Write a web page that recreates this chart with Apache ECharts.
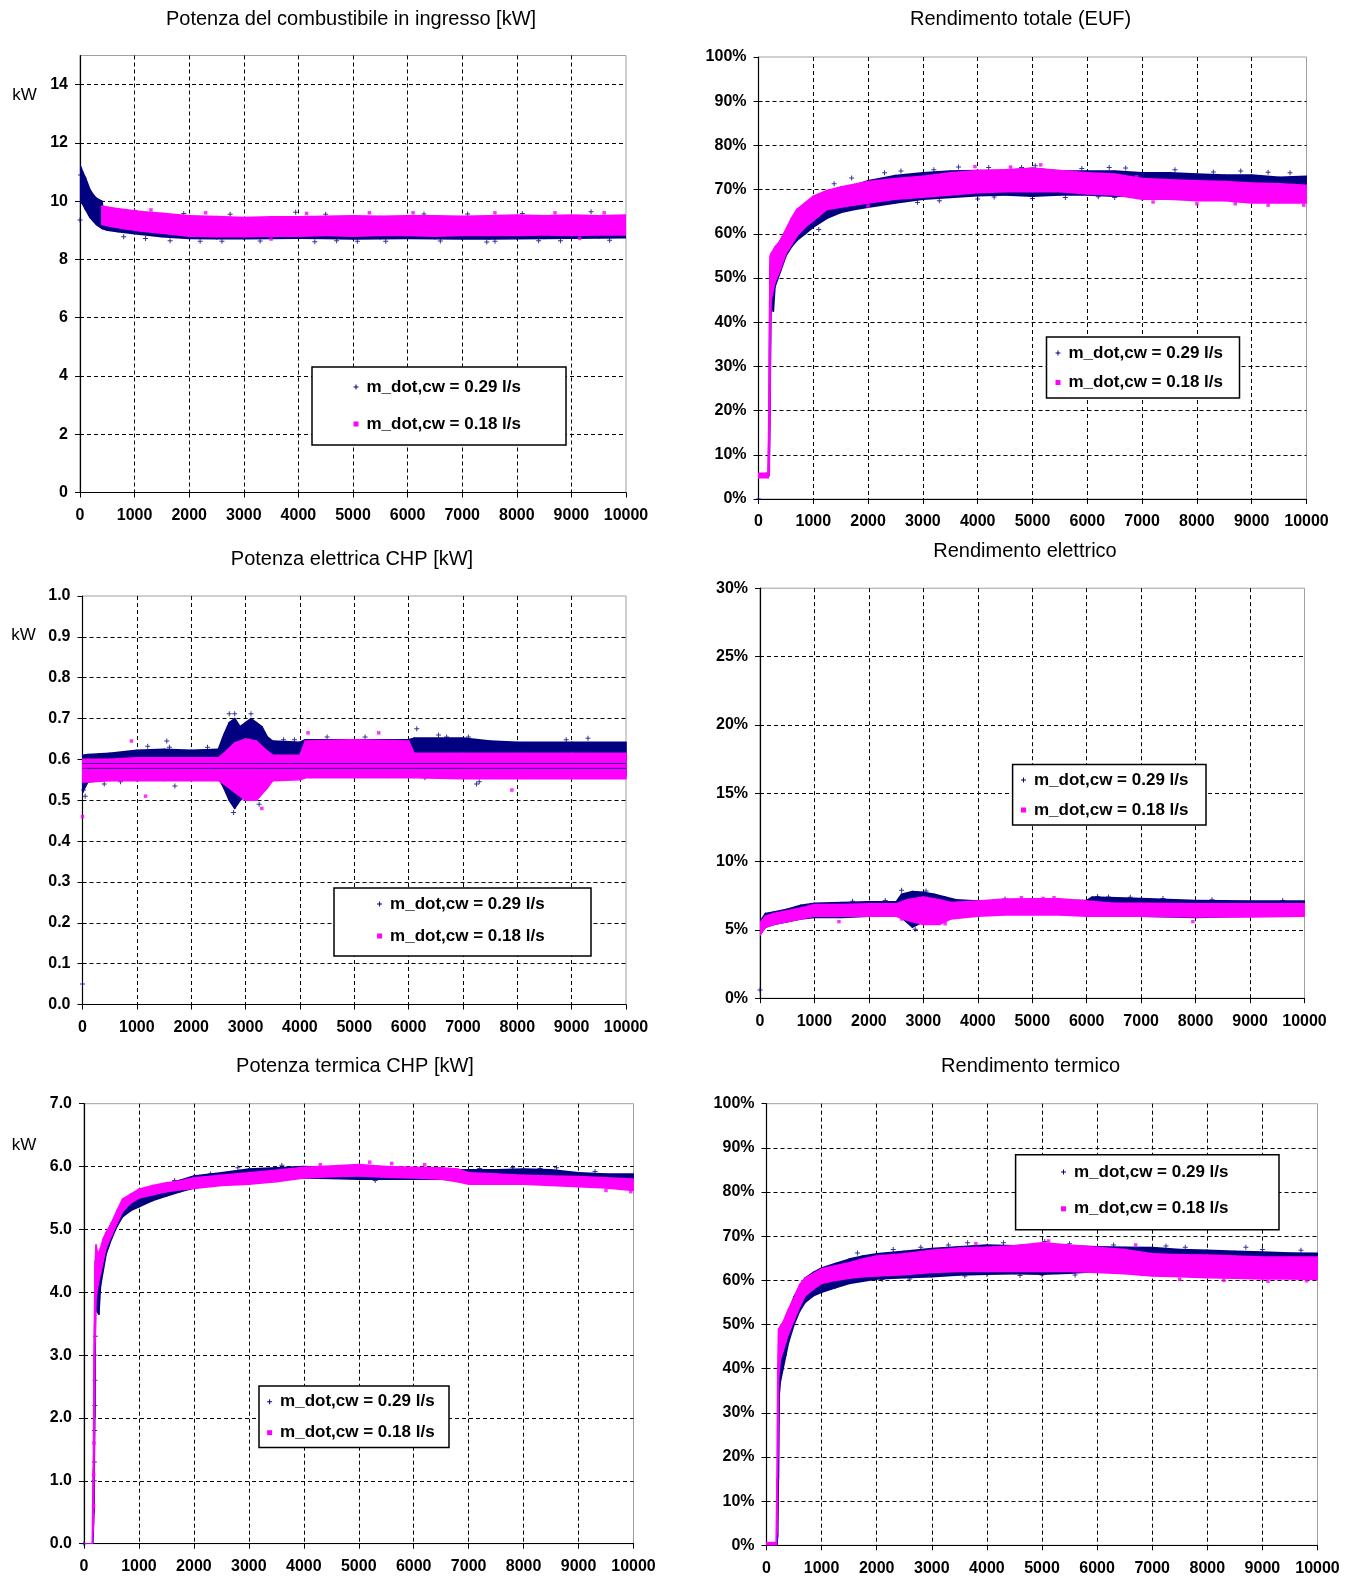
<!DOCTYPE html>
<html><head><meta charset="utf-8">
<script src="https://cdn.jsdelivr.net/npm/echarts@6/dist/echarts.min.js"></script>
<style>html,body{margin:0;padding:0;background:#fff}#c{width:1360px;height:1582px}</style>
</head><body><div id="c"></div>
<script>
// ---------- series names ----------
const NAVY_NAME = 'm_dot,cw = 0.29 l/s';
const MAG_NAME = 'm_dot,cw = 0.18 l/s';

// ---------- Panel 1: Potenza del combustibile in ingresso [kW] ----------
const p1NavyX  = [0, 50, 100, 180, 250, 300, 400, 420, 500, 700, 1000, 1500, 2000, 2500, 3000, 3500, 4000, 4500, 5000, 5500, 6000, 6500, 7000, 7500, 8000, 8500, 9000, 9500, 10000];
const p1NavyHi = [11.25, 11.0, 10.8, 10.4, 10.2, 10.1, 10.0, 9.78, 9.72, 9.62, 9.58, 9.53, 9.46, 9.43, 9.40, 9.42, 9.43, 9.45, 9.46, 9.44, 9.46, 9.46, 9.45, 9.47, 9.48, 9.47, 9.48, 9.47, 9.48];
const p1NavyLo = [10.0, 9.9, 9.72, 9.45, 9.3, 9.2, 9.07, 9.05, 9.0, 8.95, 8.88, 8.78, 8.72, 8.71, 8.71, 8.72, 8.73, 8.72, 8.7, 8.71, 8.72, 8.71, 8.7, 8.7, 8.71, 8.72, 8.73, 8.74, 8.75];
const p1MagX  = [400, 600, 850, 1100, 1500, 2000, 2500, 3000, 3500, 4000, 4500, 5000, 5500, 6000, 6500, 7000, 7500, 8000, 8500, 9000, 9500, 10000];
const p1MagHi = [9.83, 9.76, 9.7, 9.64, 9.58, 9.5, 9.47, 9.44, 9.46, 9.46, 9.48, 9.5, 9.48, 9.5, 9.5, 9.48, 9.5, 9.52, 9.5, 9.52, 9.5, 9.52];
const p1MagLo = [9.2, 9.12, 9.05, 8.98, 8.9, 8.8, 8.78, 8.78, 8.8, 8.8, 8.82, 8.8, 8.82, 8.82, 8.8, 8.82, 8.82, 8.82, 8.84, 8.82, 8.84, 8.84];
const p1NavyPts = [[0,9.35],[10,10.9],[800,8.78],[1650,8.64],[2750,9.55],[3950,9.62],[5080,8.62],[6300,9.56],[7450,8.6],[9360,9.64],[2200,8.62],[4700,8.64],[8800,8.64],
  [1200,8.72],[2600,8.62],[3300,8.63],[4300,8.61],[5600,8.62],[6600,8.63],[7600,8.62],[8400,8.64],[9700,8.66],[1000,9.68],[1900,9.58],[4500,9.55],[7100,9.56],[8100,9.58]];
const p1MagPts  = [[4150,9.58],[6100,9.6],[8700,9.6],[9150,8.72],[3500,8.7],[1300,9.7],[2300,9.6],[5300,9.6],[7600,9.6],[9600,9.6]];

// ---------- Panel 2: Rendimento totale (EUF) [%] ----------
const p2NavyX  = [0, 180, 195, 210, 225, 250, 270, 300, 400, 500, 600, 700, 850, 1000, 1250, 1500, 1750, 2000, 2500, 3000, 3500, 4000, 4500, 5000, 5500, 6000, 6500, 7000, 7500, 8000, 8500, 9000, 9500, 10000];
const p2NavyLo = [5.0, 5.1, 5.5, 20, 42, 44, 42.5, 48, 51.5, 55, 57, 58.5, 60, 61.5, 63.5, 64.8, 65.5, 66, 67, 67.8, 68.2, 68.6, 68.8, 68.5, 68.8, 68.8, 68.5, 68.5, 69, 69, 69, 69.5, 69.5, 69.5];
const p2NavyHi = [5.6, 5.8, 20, 52, 55, 55, 55.5, 56, 58.5, 60.8, 63, 65, 66.5, 68, 69.5, 70.5, 71, 72, 73.2, 73.8, 74.2, 74.3, 74.3, 74.8, 74.2, 74.2, 74.2, 73.8, 73.8, 73.5, 73.3, 73.3, 72.8, 73];
const p2MagX  = [0, 175, 190, 205, 215, 230, 300, 400, 500, 600, 700, 850, 1000, 1250, 1500, 1750, 2000, 2500, 3000, 3500, 4000, 4500, 5000, 5500, 6000, 6500, 7000, 7500, 8000, 8500, 9000, 9500, 10000];
const p2MagLo = [4.8, 4.8, 5.5, 18, 35, 45, 49, 52, 55.5, 57.5, 59.5, 61.5, 63, 65.5, 66, 66.5, 67, 67.8, 68.3, 68.8, 69.3, 69.5, 69.5, 69.5, 69, 68.8, 67.8, 67.8, 67.5, 67.5, 67, 67, 67];
const p2MagHi = [5.8, 5.8, 20, 45, 55, 55.5, 57, 58.5, 61, 63.5, 65.5, 67, 68.5, 69.8, 70.6, 71.2, 71.8, 72.5, 73, 73.8, 74.3, 74.5, 74.8, 74.3, 73.8, 73.5, 72.5, 72.2, 72, 71.8, 71.5, 71.3, 71];
const p2NavyPts = [[0,0],[1380,71.3],[1700,72.6],[2900,67.1],[3650,75.1],[4000,67.9],[5050,75.4],[5000,68],[6500,68.2],[6700,74.9],[8300,74],[9300,73.9],
  [2300,73.8],[2600,74.2],[3200,74.5],[4200,75],[4800,75],[5900,74.8],[6400,75],[7600,74.5],[8800,74.2],[9700,73.8],[3300,67.5],[4300,68.3],[5600,68.2],[6200,68.4],[7000,68],[1100,61]];
const p2MagPts  = [[3950,75.2],[4600,75.1],[5150,75.6],[9950,66.5],[2000,66.3],[7200,67.2],[8000,66.8],[8700,66.8],[9300,66.5],[6900,72.9]];

// ---------- Panel 3: Potenza elettrica CHP [kW] ----------
const p3NavyX  = [0, 100, 500, 1000, 1500, 2000, 2500, 2600, 2700, 2800, 2900, 3000, 3100, 3200, 3300, 3400, 3500, 4000, 4100, 5000, 6000, 6100, 7000, 7500, 8000, 9000, 10000];
const p3NavyHi = [0.61, 0.612, 0.615, 0.622, 0.625, 0.622, 0.625, 0.66, 0.69, 0.70, 0.68, 0.69, 0.70, 0.69, 0.68, 0.655, 0.645, 0.642, 0.648, 0.648, 0.648, 0.652, 0.652, 0.645, 0.642, 0.642, 0.642];
const p3NavyLo = [0.52, 0.545, 0.55, 0.555, 0.555, 0.555, 0.555, 0.53, 0.5, 0.48, 0.5, 0.51, 0.5, 0.51, 0.53, 0.56, 0.58, 0.58, 0.575, 0.565, 0.57, 0.565, 0.56, 0.56, 0.56, 0.56, 0.56];
const p3MagX  = [0, 100, 500, 1000, 1500, 2000, 2500, 2600, 2800, 3000, 3200, 3400, 3500, 4000, 4100, 5000, 6000, 6100, 7000, 8000, 9000, 10000];
const p3MagHi = [0.6, 0.6, 0.6, 0.604, 0.604, 0.604, 0.604, 0.615, 0.64, 0.65, 0.645, 0.62, 0.61, 0.61, 0.645, 0.648, 0.645, 0.615, 0.615, 0.615, 0.615, 0.615];
const p3MagLo = [0.545, 0.545, 0.548, 0.548, 0.548, 0.548, 0.548, 0.54, 0.52, 0.5, 0.5, 0.53, 0.548, 0.55, 0.555, 0.555, 0.555, 0.555, 0.553, 0.553, 0.553, 0.553];
const p3NavyLevels = [0.578, 0.59];
const p3NavyPts = [[0,0.05],[50,0.51],[20,0.525],[1550,0.645],[2700,0.712],[2800,0.712],[3100,0.712],[2780,0.47],[3250,0.49],[6150,0.675],[6550,0.66],[7250,0.54],[4200,0.56],
  [1200,0.632],[1600,0.63],[2300,0.63],[3700,0.648],[3900,0.648],[4500,0.655],[5200,0.655],[6700,0.655],[7100,0.655],[8900,0.648],[9300,0.652],[400,0.54],[700,0.545],[1700,0.535],[5600,0.56],[6300,0.555],[7300,0.545]];
const p3MagPts  = [[0,0.46],[900,0.645],[1160,0.51],[4150,0.665],[5450,0.665],[7900,0.525],[3300,0.48]];

// ---------- Panel 4: Rendimento elettrico [%] ----------
const p4NavyX  = [0, 100, 250, 500, 750, 1000, 1500, 2000, 2500, 2600, 2800, 3000, 3200, 3400, 3600, 4000, 5000, 6000, 6100, 7000, 8000, 9000, 10000];
const p4NavyLo = [4.7, 5.2, 5.4, 5.6, 5.8, 5.9, 5.9, 6.0, 6.1, 5.9, 5.2, 5.6, 5.8, 6.0, 6.1, 6.1, 6.2, 6.1, 6.0, 6.0, 5.9, 6.0, 6.0];
const p4NavyHi = [5.6, 6.2, 6.3, 6.5, 6.8, 6.95, 7.0, 7.05, 7.05, 7.6, 7.8, 7.75, 7.6, 7.4, 7.2, 7.1, 7.2, 7.15, 7.4, 7.3, 7.15, 7.1, 7.1];
const p4MagX  = [0, 100, 250, 500, 750, 1000, 1500, 2000, 2500, 2700, 3000, 3300, 3500, 4000, 4500, 5000, 5500, 6000, 6500, 7000, 8000, 9000, 10000];
const p4MagLo = [4.6, 5.2, 5.4, 5.6, 5.8, 6.0, 6.0, 6.0, 6.0, 5.7, 5.4, 5.4, 5.8, 6.0, 6.1, 6.1, 6.1, 6.0, 6.0, 6.0, 5.95, 5.95, 6.0];
const p4MagHi = [5.5, 6.0, 6.2, 6.4, 6.6, 6.85, 6.85, 6.9, 6.9, 7.2, 7.4, 7.2, 7.0, 7.1, 7.25, 7.28, 7.28, 7.1, 6.95, 6.95, 6.9, 6.9, 6.9];
const p4NavyPts = [[0,0.6],[2600,7.9],[3050,7.85],[2850,5.05],[6200,7.45],[1700,7.1],[2300,7.15],[4500,7.25],[6400,7.4],[6800,7.38],[7400,7.3],[8300,7.2],[9600,7.15]];
const p4MagPts  = [[1450,5.6],[3400,5.45],[7950,5.6],[5400,7.35],[4800,7.35],[5200,7.3],[2600,5.8]];

// ---------- Panel 5: Potenza termica CHP [kW] ----------
const p5NavyX  = [0, 160, 180, 195, 210, 240, 270, 300, 350, 400, 500, 600, 700, 850, 1000, 1250, 1500, 1750, 2000, 2500, 3000, 3500, 4000, 4500, 5000, 5500, 6000, 6500, 7000, 7500, 8000, 8500, 9000, 9500, 10000];
const p5NavyLo = [0, 0, 0.5, 2.0, 3.8, 3.7, 3.65, 4.1, 4.35, 4.6, 4.85, 5.05, 5.2, 5.3, 5.36, 5.46, 5.53, 5.6, 5.66, 5.73, 5.78, 5.8, 5.82, 5.81, 5.8, 5.8, 5.8, 5.8, 5.83, 5.82, 5.82, 5.8, 5.78, 5.77, 5.78];
const p5NavyHi = [0, 0, 1.5, 3.5, 4.5, 4.4, 4.3, 4.55, 4.75, 4.9, 5.1, 5.25, 5.4, 5.5, 5.58, 5.65, 5.72, 5.78, 5.85, 5.9, 5.96, 5.98, 6.0, 5.98, 5.95, 5.95, 5.95, 5.94, 5.95, 5.95, 5.96, 5.95, 5.9, 5.88, 5.88];
const p5MagX  = [0, 150, 170, 185, 200, 220, 250, 300, 350, 400, 500, 600, 700, 850, 1000, 1250, 1500, 1750, 2000, 2500, 3000, 3500, 4000, 4500, 5000, 5500, 6000, 6500, 6800, 7000, 7500, 8000, 8500, 9000, 9500, 10000];
const p5MagLo = [0, 0, 0.3, 1.5, 3.2, 3.9, 4.1, 4.3, 4.5, 4.7, 4.9, 5.1, 5.28, 5.42, 5.5, 5.55, 5.6, 5.63, 5.65, 5.7, 5.72, 5.76, 5.82, 5.84, 5.85, 5.83, 5.82, 5.8, 5.76, 5.72, 5.72, 5.72, 5.7, 5.68, 5.66, 5.62];
const p5MagHi = [0, 0, 1.2, 3.0, 4.4, 4.75, 4.6, 4.7, 4.85, 4.95, 5.1, 5.3, 5.48, 5.56, 5.64, 5.7, 5.74, 5.77, 5.82, 5.86, 5.9, 5.94, 5.99, 6.01, 6.03, 6.0, 5.99, 5.98, 5.96, 5.9, 5.88, 5.86, 5.85, 5.84, 5.82, 5.8];
const p5NavyPts = [[0,0],[185,1.0],[188,1.3],[192,1.8],[196,2.2],[199,2.6],[203,3.0],[206,3.3],[1650,5.78],[5300,5.78],[8300,5.97],
  [2300,5.88],[2800,5.98],[3600,6.02],[7200,5.97],[7800,5.98],[8600,5.98],[9300,5.92]];
const p5MagPts  = [[175,0.6],[178,1.1],[181,1.6],[5200,6.07],[9950,5.6],[4300,6.03],[5600,6.05],[6200,6.03],[9500,5.62]];

// ---------- Panel 6: Rendimento termico [%] ----------
const p6NavyX  = [0, 190, 200, 215, 230, 250, 300, 350, 400, 500, 600, 700, 850, 1000, 1250, 1500, 1750, 2000, 2500, 3000, 3500, 4000, 4500, 5000, 5500, 6000, 6500, 7000, 7500, 8000, 8500, 9000, 9500, 10000];
const p6NavyLo = [0, 0, 2, 15, 34, 37, 40, 43, 46, 50, 53, 55, 56.5, 57.3, 58.3, 59.3, 59.8, 60.3, 60.6, 60.8, 61.2, 61.4, 61.5, 61.4, 61.6, 62, 62, 62, 62.2, 62.5, 62.5, 62.8, 62.8, 63];
const p6NavyHi = [0, 0, 10, 35, 46, 48.5, 50, 51.5, 53, 56.3, 58.5, 60.5, 61.8, 62.8, 63.8, 64.8, 65.5, 66, 66.6, 67.2, 67.6, 68, 67.8, 68.2, 67.8, 67.6, 67.5, 67.4, 67, 66.8, 66.6, 66.4, 66.2, 66.1];
const p6MagX  = [0, 175, 190, 205, 220, 250, 300, 350, 400, 500, 600, 700, 850, 1000, 1250, 1500, 1750, 2000, 2500, 3000, 3500, 4000, 4500, 5000, 5500, 6000, 6500, 7000, 7500, 8000, 8500, 9000, 9500, 10000];
const p6MagLo = [0, 0, 3, 20, 38, 42, 44, 46, 48, 51, 54, 56.5, 58, 59.3, 60, 60.5, 60.8, 61, 61.3, 61.8, 62, 62, 62, 62, 62, 61.8, 61.5, 61, 60.8, 60.6, 60.5, 60.3, 60.3, 60.2];
const p6MagHi = [0.6, 0.6, 15, 40, 49, 49.5, 50.5, 52, 53.5, 56, 59, 60.5, 61.5, 62.6, 63.3, 64, 64.8, 65.5, 66, 66.8, 67.3, 67.5, 67.8, 68.5, 68, 67.5, 67, 66, 65.8, 65.7, 65.5, 65.3, 65.3, 65.3];
const p6NavyPts = [[1650,66.2],[3650,68.5],[4000,61.3],[5050,68.8],[5000,61.2],[7250,67.8],[8700,67.5],[2100,60.2],
  [2300,67],[2800,67.5],[3300,68],[4300,68.5],[5500,68.3],[6300,68],[7600,67.5],[9000,67],[9700,66.8],[2600,60.3],[3600,61],[4600,61.1],[5600,61.2],[6800,61.5]];
const p6MagPts  = [[5120,68.9],[3800,68.3],[6700,68],[7500,60.2],[8300,60],[9100,59.8],[9800,59.9]];

// ---------- styling / layout ----------
const FONT = '"Liberation Sans", Arial, Helvetica, sans-serif';
const NAVY = '#000080', MAG = '#ff00ff';
const PLUS = 'path://M2,0H3V2H5V3H3V5H2V3H0V2H2Z';
const pct = v => v + '%';
const one = v => (+v).toFixed(1);
const int = v => String(v);

const panels = [
  {grid:{left:80, top:55.5, width:546, height:437}, y:{min:0,max:15,interval:2,fmt:int},
   navy:[p1NavyX,p1NavyLo,p1NavyHi], mag:[p1MagX,p1MagLo,p1MagHi], navyPts:p1NavyPts, magPts:p1MagPts,
   title:'Potenza del combustibile in ingresso [kW]', tx:351, ty:19, unit:[24.5,95.5],
   box:[312,367,254,78], li:[356,387,424]},
  {grid:{left:758.5, top:57, width:548, height:442}, y:{min:0,max:100,interval:10,fmt:pct},
   navy:[p2NavyX,p2NavyLo,p2NavyHi], mag:[p2MagX,p2MagLo,p2MagHi], navyPts:p2NavyPts, magPts:p2MagPts,
   title:'Rendimento totale (EUF)', tx:1020.6, ty:19, unit:null,
   box:[1046.5,337,193,61], li:[1058,353,382.5]},
  {grid:{left:82.5, top:596, width:543.5, height:408.5}, y:{min:0,max:1,interval:0.1,fmt:one},
   navy:[p3NavyX,p3NavyLo,p3NavyHi], mag:[p3MagX,p3MagLo,p3MagHi], navyPts:p3NavyPts, magPts:p3MagPts, levels:p3NavyLevels,
   title:'Potenza elettrica CHP [kW]', tx:352, ty:559, unit:[23.5,635.6],
   box:[334,888,257,68], li:[379.6,904,936]},
  {grid:{left:760, top:588.2, width:544.5, height:410}, y:{min:0,max:30,interval:5,fmt:pct},
   navy:[p4NavyX,p4NavyLo,p4NavyHi], mag:[p4MagX,p4MagLo,p4MagHi], navyPts:p4NavyPts, magPts:p4MagPts,
   title:'Rendimento elettrico', tx:1025, ty:551.5, unit:null,
   box:[1012.6,764.4,193.4,60.6], li:[1023.5,780,810]},
  {grid:{left:84, top:1103.7, width:549.5, height:440}, y:{min:0,max:7,interval:1,fmt:one},
   navy:[p5NavyX,p5NavyLo,p5NavyHi], mag:[p5MagX,p5MagLo,p5MagHi], navyPts:p5NavyPts, magPts:p5MagPts,
   title:'Potenza termica CHP [kW]', tx:355, ty:1066, unit:[24,1145.5],
   box:[259,1386,190,61.5], li:[269.6,1401.7,1432.7]},
  {grid:{left:766.5, top:1103.7, width:551, height:441.6}, y:{min:0,max:100,interval:10,fmt:pct},
   navy:[p6NavyX,p6NavyLo,p6NavyHi], mag:[p6MagX,p6MagLo,p6MagHi], navyPts:p6NavyPts, magPts:p6MagPts,
   title:'Rendimento termico', tx:1030.6, ty:1066, unit:null,
   box:[1015.6,1154.7,263.4,75], li:[1063.5,1172,1208.8]}
];

function bandData(xs, lo, hi){
  const out = [];
  for (let i = 0; i < xs.length - 1; i++) out.push([xs[i], lo[i], hi[i], xs[i+1], lo[i+1], hi[i+1]]);
  return out;
}
function bandSeries(name, color, gi, arr, z){
  return {
    type:'custom', name, xAxisIndex:gi, yAxisIndex:gi, z, silent:true, clip:true,
    itemStyle:{color}, encode:{x:[0,3], y:[1,2,4,5]},
    data: bandData(arr[0], arr[1], arr[2]),
    renderItem(params, api){
      const a = api.coord([api.value(0), api.value(2)]);
      const b = api.coord([api.value(3), api.value(5)]);
      const c = api.coord([api.value(3), api.value(4)]);
      const d = api.coord([api.value(0), api.value(1)]);
      return {type:'polygon', shape:{points:[a,b,c,d]},
        style:{fill:color, stroke:color, lineWidth:1.6, lineJoin:'round'}};
    }
  };
}
const axisCommon = {
  axisLine:{show:true, onZero:false, lineStyle:{color:'#000', width:1.2}},
  axisTick:{show:true, length:5, lineStyle:{color:'#000', width:1}},
  splitLine:{show:true, showMinLine:false, showMaxLine:false, lineStyle:{color:'#000', width:1, type:[4,3]}}
};

const grids = [], xAxes = [], yAxes = [], series = [], legends = [], graphics = [];
panels.forEach((p, i) => {
  grids.push(Object.assign({show:true, borderColor:'#a0a0a0', borderWidth:1, backgroundColor:'transparent', containLabel:false}, p.grid));
  xAxes.push(Object.assign({type:'value', gridIndex:i, min:0, max:10000, interval:1000,
    axisLabel:{fontFamily:FONT, fontSize:16, fontWeight:'bold', color:'#000', margin:15, formatter:int}}, axisCommon));
  yAxes.push(Object.assign({type:'value', gridIndex:i, min:p.y.min, max:p.y.max, interval:p.y.interval,
    axisLabel:{fontFamily:FONT, fontSize:16, fontWeight:'bold', color:'#000', margin:12, formatter:p.y.fmt, showMaxLabel: i === 0 ? false : true}}, axisCommon));
  series.push(bandSeries(NAVY_NAME, NAVY, i, p.navy, 2));
  series.push({type:'scatter', name:NAVY_NAME, xAxisIndex:i, yAxisIndex:i, z:2, silent:true,
    symbol:PLUS, symbolSize:5, itemStyle:{color:NAVY}, data:p.navyPts});
  series.push(bandSeries(MAG_NAME, MAG, i, p.mag, 3));
  series.push({type:'scatter', name:MAG_NAME, xAxisIndex:i, yAxisIndex:i, z:3, silent:true,
    symbol:'rect', symbolSize:3.5, itemStyle:{color:MAG}, data:p.magPts});
  if (p.levels) {
    p.levels.forEach(v => {
      series.push({type:'line', name:NAVY_NAME, xAxisIndex:i, yAxisIndex:i, z:4, silent:true,
        symbol:'none', lineStyle:{color:NAVY, width:1, opacity:0.8}, data:[[0, v],[10000, v]]});
    });
  }
  legends.push({show:true, orient:'vertical', left:p.li[0]-2.5, top:p.li[1]-9,
    itemWidth:5, itemHeight:5, itemGap:(p.li[2]-p.li[1])-18, padding:0, selectedMode:false, z:6,
    textStyle:{fontFamily:FONT, fontSize:17, fontWeight:'bold', color:'#000', lineHeight:18, padding:[0,0,0,3]},
    data:[{name:NAVY_NAME, icon:PLUS}, {name:MAG_NAME, icon:'rect'}]});
  graphics.push({type:'rect', z:5, shape:{x:p.box[0], y:p.box[1], width:p.box[2], height:p.box[3]},
    style:{fill:'#fff', stroke:'#000', lineWidth:1.5}});
  graphics.push({type:'text', z:5, x:p.tx, y:p.ty,
    style:{text:p.title, font:'20px ' + FONT, fill:'#000', align:'center', verticalAlign:'middle'}});
  if (p.unit) graphics.push({type:'text', z:5, x:p.unit[0], y:p.unit[1],
    style:{text:'kW', font:'17px ' + FONT, fill:'#000', align:'center', verticalAlign:'middle'}});
});

const chart = echarts.init(document.getElementById('c'), null, {renderer:'canvas', width:1360, height:1582});
chart.setOption({
  animation:false,
  backgroundColor:'#fff',
  grid:grids, xAxis:xAxes, yAxis:yAxes, series, legend:legends, graphic:graphics
});
</script>
</body></html>
